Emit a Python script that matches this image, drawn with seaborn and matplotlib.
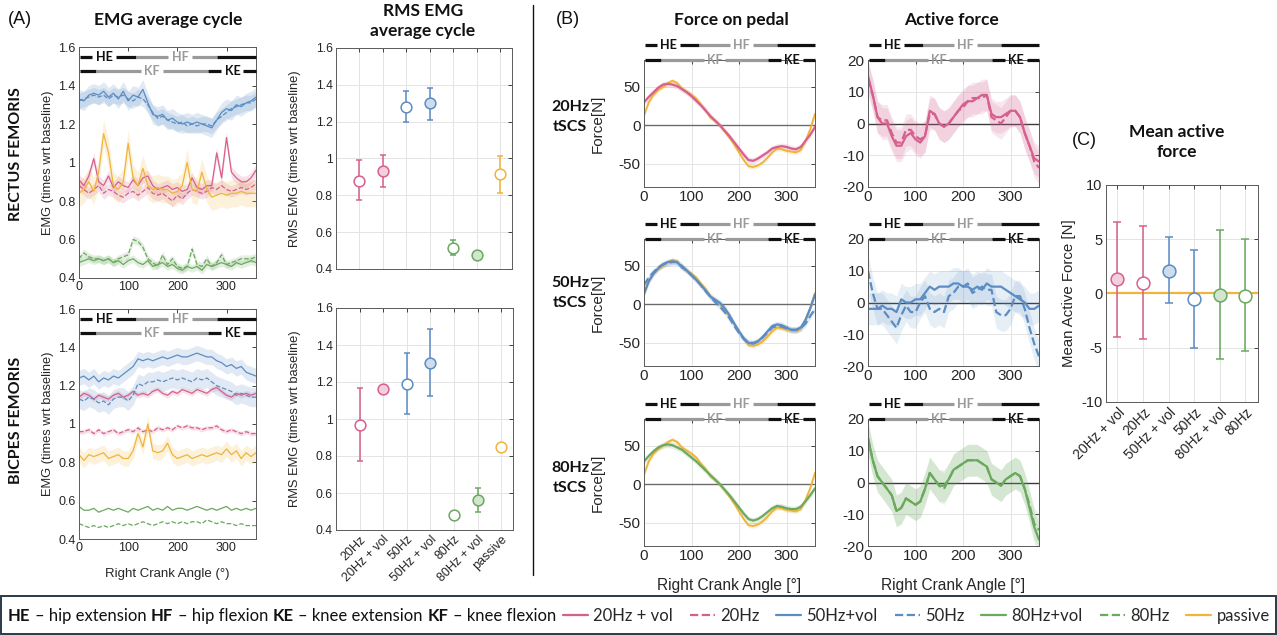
import numpy as np
import pandas as pd
import seaborn as sns
import matplotlib
matplotlib.use("Agg")
import matplotlib.pyplot as plt
import matplotlib.transforms as mtransforms
from matplotlib.lines import Line2D
from matplotlib.patches import Rectangle
from matplotlib.colors import to_rgb

# ---------------- data ----------------
ANGLE = [0, 10, 20, 30, 40, 50, 60, 70, 80, 90, 100, 110, 120, 130, 140, 150, 160, 170, 180,
         190, 200, 210, 220, 230, 240, 250, 260, 270, 280, 290, 300, 310, 320, 330, 340, 350, 360]

CONDITIONS = ['20Hz + vol', '20Hz', '50Hz+vol', '50Hz', '80Hz+vol', '80Hz', 'passive']

# EMG average cycle - rectus femoris
rf_20_vol = [0.91, 0.88, 0.93, 1.02, 0.90, 0.88, 0.93, 0.87, 0.90, 0.88, 0.87, 0.91, 0.88, 0.92, 0.93, 0.88, 0.86, 0.87, 0.88,
             0.86, 0.87, 0.85, 0.86, 0.92, 0.87, 0.86, 0.88, 0.88, 1.05, 0.92, 1.13, 0.95, 0.92, 0.90, 0.90, 0.92, 0.96]
rf_20 = [0.88, 0.86, 0.84, 0.86, 0.88, 0.84, 0.86, 0.85, 0.83, 0.82, 0.84, 0.85, 0.83, 0.85, 0.87, 0.84, 0.83, 0.84, 0.82,
         0.80, 0.83, 0.81, 0.84, 0.86, 0.85, 0.84, 0.85, 0.87, 0.86, 0.88, 0.86, 0.85, 0.86, 0.87, 0.86, 0.87, 0.89]
rf_50_vol = [1.33, 1.32, 1.35, 1.36, 1.35, 1.37, 1.34, 1.36, 1.33, 1.37, 1.32, 1.35, 1.34, 1.38, 1.31, 1.25, 1.24, 1.25, 1.22,
             1.23, 1.21, 1.20, 1.21, 1.20, 1.21, 1.20, 1.19, 1.18, 1.22, 1.26, 1.28, 1.27, 1.30, 1.29, 1.31, 1.32, 1.34]
rf_50 = [1.32, 1.33, 1.34, 1.35, 1.34, 1.35, 1.33, 1.35, 1.34, 1.35, 1.33, 1.32, 1.34, 1.33, 1.30, 1.26, 1.23, 1.24, 1.22,
         1.21, 1.20, 1.21, 1.19, 1.20, 1.19, 1.20, 1.20, 1.19, 1.22, 1.24, 1.26, 1.28, 1.29, 1.30, 1.31, 1.31, 1.33]
rf_80_vol = [0.48, 0.49, 0.50, 0.49, 0.50, 0.49, 0.50, 0.48, 0.49, 0.47, 0.49, 0.50, 0.48, 0.47, 0.49, 0.46, 0.47, 0.48, 0.46,
             0.47, 0.45, 0.44, 0.46, 0.45, 0.46, 0.44, 0.47, 0.46, 0.47, 0.48, 0.47, 0.46, 0.48, 0.47, 0.48, 0.49, 0.48]
rf_80 = [0.50, 0.53, 0.51, 0.50, 0.50, 0.49, 0.50, 0.48, 0.50, 0.51, 0.52, 0.60, 0.59, 0.56, 0.50, 0.48, 0.46, 0.52, 0.47,
         0.50, 0.46, 0.45, 0.46, 0.55, 0.47, 0.46, 0.50, 0.46, 0.48, 0.52, 0.47, 0.48, 0.49, 0.50, 0.50, 0.50, 0.51]
rf_passive = [0.84, 0.86, 0.90, 0.85, 0.95, 1.15, 1.05, 0.88, 0.86, 0.90, 1.10, 0.92, 0.88, 0.97, 0.88, 0.86, 0.87, 0.86, 0.86,
              0.84, 0.85, 0.88, 1.00, 0.86, 0.85, 0.95, 0.86, 0.82, 0.83, 0.84, 0.83, 0.84, 0.84, 0.85, 0.84, 0.84, 0.84]
rf_band = [0.03, 0.03, 0.05, 0.04, 0.02, 0.02, 0.07]

# EMG average cycle - biceps femoris
bf_20_vol = [1.14, 1.16, 1.15, 1.13, 1.15, 1.14, 1.13, 1.15, 1.16, 1.14, 1.15, 1.17, 1.15, 1.16, 1.15, 1.17, 1.18, 1.16, 1.15,
             1.17, 1.16, 1.18, 1.17, 1.16, 1.18, 1.17, 1.16, 1.18, 1.19, 1.17, 1.15, 1.14, 1.16, 1.15, 1.16, 1.15, 1.16]
bf_20 = [0.96, 0.96, 0.97, 0.95, 0.97, 0.95, 0.96, 0.97, 0.95, 0.96, 0.97, 0.96, 0.98, 0.96, 0.97, 0.96, 0.98, 0.97, 0.98,
         0.97, 0.99, 0.98, 0.99, 0.98, 0.98, 0.97, 0.98, 0.98, 0.99, 0.97, 0.96, 0.97, 0.96, 0.95, 0.96, 0.95, 0.95]
bf_50_vol = [1.24, 1.25, 1.23, 1.25, 1.22, 1.24, 1.23, 1.25, 1.24, 1.26, 1.28, 1.30, 1.34, 1.33, 1.34, 1.33, 1.34, 1.35, 1.34,
             1.35, 1.36, 1.35, 1.35, 1.36, 1.37, 1.36, 1.35, 1.35, 1.33, 1.32, 1.30, 1.31, 1.29, 1.30, 1.27, 1.26, 1.25]
bf_50 = [1.13, 1.12, 1.14, 1.13, 1.11, 1.12, 1.10, 1.13, 1.14, 1.14, 1.12, 1.15, 1.21, 1.20, 1.22, 1.22, 1.23, 1.22, 1.23,
         1.24, 1.23, 1.24, 1.23, 1.22, 1.24, 1.23, 1.24, 1.22, 1.20, 1.19, 1.18, 1.17, 1.15, 1.16, 1.15, 1.14, 1.14]
bf_80_vol = [0.57, 0.55, 0.55, 0.56, 0.54, 0.55, 0.56, 0.55, 0.56, 0.55, 0.54, 0.56, 0.55, 0.56, 0.57, 0.55, 0.56, 0.55, 0.57,
             0.55, 0.56, 0.56, 0.55, 0.56, 0.57, 0.56, 0.55, 0.56, 0.55, 0.56, 0.57, 0.55, 0.56, 0.55, 0.56, 0.55, 0.56]
bf_80 = [0.48, 0.47, 0.46, 0.47, 0.46, 0.47, 0.46, 0.47, 0.48, 0.47, 0.48, 0.47, 0.48, 0.49, 0.48, 0.47, 0.48, 0.49, 0.48,
         0.49, 0.48, 0.49, 0.48, 0.49, 0.49, 0.48, 0.50, 0.49, 0.48, 0.49, 0.48, 0.48, 0.47, 0.48, 0.47, 0.47, 0.47]
bf_passive = [0.84, 0.81, 0.84, 0.83, 0.84, 0.85, 0.82, 0.83, 0.84, 0.82, 0.82, 0.86, 0.95, 0.88, 1.00, 0.86, 0.85, 0.86, 0.90,
              0.84, 0.82, 0.83, 0.84, 0.82, 0.83, 0.84, 0.83, 0.84, 0.85, 0.84, 0.87, 0.84, 0.86, 0.82, 0.85, 0.83, 0.85]
bf_band = [0.015, 0.012, 0.04, 0.05, 0.0, 0.0, 0.04]

# RMS EMG
RMS_LABELS = ['20Hz', '20Hz + vol', '50Hz', '50Hz + vol', '80Hz', '80Hz + vol', 'passive']
rms_rf_mean = [0.88, 0.93, 1.28, 1.30, 0.515, 0.478, 0.915]
rms_rf_low = [0.775, 0.845, 1.20, 1.21, 0.475, 0.46, 0.815]
rms_rf_high = [0.99, 1.02, 1.365, 1.385, 0.555, 0.495, 1.015]
rms_bf_mean = [0.97, 1.16, 1.19, 1.305, 0.48, 0.56, 0.85]
rms_bf_low = [0.775, 1.155, 1.025, 1.125, 0.465, 0.495, 0.84]
rms_bf_high = [1.165, 1.17, 1.355, 1.485, 0.495, 0.625, 0.86]
RMS_FILLED = [False, True, False, True, False, True, False]

# Force on pedal
force_passive = [13, 30, 40, 46, 50, 55, 58, 55, 48, 44, 40, 35, 27, 20, 10, 6, 0, -8, -16,
                 -25, -35, -45, -53, -54, -52, -48, -42, -35, -30, -31, -33, -34, -35, -32, -20, -5, 15]
force_20_vol = [30, 37, 43, 49, 53, 54, 53, 51, 47, 43, 38, 32, 26, 19, 12, 6, 0, -7, -14,
                -22, -30, -38, -45, -46, -43, -39, -35, -30, -28, -27, -28, -30, -31, -28, -20, -12, -2]
force_50_vol = [14, 30, 40, 47, 52, 55, 56, 55, 48, 44, 38, 32, 25, 18, 10, 6, 2, -5, -14,
                -25, -35, -44, -50, -51, -48, -42, -35, -28, -26, -27, -30, -33, -33, -30, -20, -5, 13]
force_50 = [25, 35, 42, 48, 52, 54, 55, 55, 50, 44, 38, 32, 25, 17, 10, 3, -3, -10, -18,
            -28, -37, -45, -50, -50, -48, -43, -37, -30, -28, -29, -31, -33, -33, -31, -25, -15, -6]
force_80_vol = [30, 37, 43, 48, 51, 52, 51, 48, 45, 40, 35, 30, 24, 18, 12, 6, 0, -7, -14,
                -22, -30, -38, -45, -47, -45, -41, -36, -31, -28, -29, -31, -32, -32, -29, -22, -14, -5]

# Active force
active_20_vol = [15, 9, 2, 0, 0, -4, -7, -7, -4, -3, -5, -6, -4, 4, 3, 0, -1, 0, 2,
                 4, 6, 7, 7, 8, 9, 9, 3, 2, 2, 3, 4, 4, 2, -3, -7, -11, -12]
active_20 = [14, 9, 2, 1, 1, -3, -6, -6, -2, -2, -4, -5, -4, 3, 3, 0, -1, 0, 2,
             4, 5, 7, 8, 8, 8, 9, 2, 1, 0, 2, 4, 4, 2, -3, -7, -12, -14]
active_50_vol = [-2, -2, -2, -1, -2, -2, -3, 1, 0, 0, 1, 1, 3, 5, 4, 5, 5, 5, 6,
                 6, 5, 5, 4, 5, 4, 6, 5, 5, 5, 4, 3, 2, 1, 0, -2, -2, -1]
active_50 = [10, 3, -2, -2, -4, -6, -8, -4, -1, -3, -3, 0, 2, -2, -3, -2, -3, 2, 3,
             5, 5, 6, 3, 4, 5, 4, 4, -3, -4, -4, -2, 2, 2, -2, -8, -13, -17]
active_80_vol = [14, 7, 2, 0, -2, -4, -9, -8, -5, -6, -7, -6, -2, 3, 1, -1, -1, 1, 4,
                 5, 6, 7, 7, 7, 6, 5, 1, 0, -1, 1, 2, 3, 2, -2, -8, -14, -18]
active_80 = [14, 7, 2, 0, -2, -4, -9, -8, -5, -6, -7, -6, -2, 3, 1, -1, -2, 1, 4,
             5, 6, 7, 7, 7, 6, 5, 1, 0, -1, 1, 2, 3, 2, -2, -7, -13, -15]
FORCE_BAND = 4
PASSIVE_FORCE_BAND = 3
ACTIVE_BAND = 5

# Mean active force
MAF_LABELS = ['20Hz + vol', '20Hz', '50Hz + vol', '50Hz', '80Hz + vol', '80Hz']
maf_mean = [1.3, 1.0, 2.1, -0.5, -0.1, -0.2]
maf_low = [-4.0, -4.15, -0.9, -5.05, -6.05, -5.3]
maf_high = [6.6, 6.2, 5.2, 4.05, 5.85, 5.0]
MAF_FILLED = [True, False, True, False, True, False]
maf_passive = 0.0

# Phase bars (degrees of crank angle)
HIP_SEGMENTS = [(2, 27, 'k'), (76, 116, 'k'), (116, 180, 'g'), (230, 281, 'g'), (281, 360, 'k')]
KNEE_SEGMENTS = [(2, 35, 'k'), (35, 127, 'g'), (170, 262, 'g'), (262, 289, 'k'), (334, 360, 'k')]
HIP_LABELS = [(52, 'HE', 'k'), (206, 'HF', 'g')]
KNEE_LABELS = [(149, 'KF', 'g'), (312, 'KE', 'k')]

# ---------------- style ----------------
PINK = '#d6608d'
BLUE = '#5b8dc4'
GREEN = '#6aa95e'
YELLOW = '#f0b43a'
COLORS = [PINK, PINK, BLUE, BLUE, GREEN, GREEN, YELLOW]
STYLES = ['-', '--', '-', '--', '-', '--', '-']
PHASE_COL = {'k': '#111111', 'g': '#9a9a9a'}
TXT = '#262626'
TITLE_FONT = ['Lato', 'DejaVu Sans']

sns.set_theme(style="white")
plt.rcParams['font.family'] = ['Liberation Sans', 'DejaVu Sans']
plt.rcParams['axes.unicode_minus'] = False

W, H = 1277, 635
fig = plt.figure(figsize=(W / 100, H / 100), dpi=100)


def add_ax(x0, y0, x1, y1):
    return fig.add_axes([x0 / W, 1 - y1 / H, (x1 - x0) / W, (y1 - y0) / H])


def light(c, f=0.3):
    r, g, b = to_rgb(c)
    return (1 - f + f * r, 1 - f + f * g, 1 - f + f * b)


def style_axis(ax, fs, grid):
    ax.tick_params(axis='both', which='both', direction='in', length=3, width=0.6,
                   labelsize=fs, colors=TXT, top=True, right=True, pad=2.5)
    for s in ax.spines.values():
        s.set_color('#5a5a5a')
        s.set_linewidth(0.7)
    if grid:
        ax.grid(True, color='#e4e4e4', lw=0.7)
        ax.set_axisbelow(True)
    else:
        ax.grid(False)


def curve(ax, y, band, color, ls, lw, alpha=0.18):
    y = np.asarray(y, dtype=float)
    if band:
        ax.fill_between(ANGLE, y - band, y + band, color=color, alpha=alpha, lw=0, zorder=1)
    sns.lineplot(x=ANGLE, y=y, ax=ax, color=color, linestyle=ls, lw=lw,
                 sort=False, estimator=None, legend=False, zorder=2)


def phase_bars(ax, y_hip, y_knee, fs=9):
    tr = mtransforms.blended_transform_factory(ax.transData, ax.transAxes)
    for segs, yy in ((HIP_SEGMENTS, y_hip), (KNEE_SEGMENTS, y_knee)):
        for a, b, c in segs:
            ax.add_line(Line2D([a, b], [yy, yy], color=PHASE_COL[c], lw=2.3, transform=tr,
                               clip_on=False, solid_capstyle='butt', zorder=5))
    for labs, yy in ((HIP_LABELS, y_hip), (KNEE_LABELS, y_knee)):
        for xx, s, c in labs:
            ax.text(xx, yy, s, color=PHASE_COL[c], fontsize=fs, fontweight='bold', family=TITLE_FONT,
                    ha='center', va='center', transform=tr, clip_on=False, zorder=6)


def emg_panel(ax, series, bands, xlabel):
    for y, b, c, ls in zip(series, bands, COLORS, STYLES):
        curve(ax, y, b, c, ls, 0.9)
    ax.set_xlim(0, 360)
    ax.set_ylim(0.4, 1.6)
    ax.set_xticks([0, 100, 200, 300])
    ax.set_yticks([0.4, 0.6, 0.8, 1.0, 1.2, 1.4, 1.6])
    ax.set_yticklabels(['0.4', '0.6', '0.8', '1', '1.2', '1.4', '1.6'])
    style_axis(ax, 9, False)
    ax.set_ylabel('EMG (times wrt baseline)', fontsize=9.3, color=TXT)
    ax.yaxis.set_label_coords(-0.14, 0.5)
    if xlabel:
        ax.set_xlabel('Right Crank Angle (°)', fontsize=9.5, color=TXT)
        ax.xaxis.set_label_coords(0.5, -0.125)
    else:
        ax.set_xlabel('')
    phase_bars(ax, 0.957, 0.896)


def rms_panel(ax, mean, low, high, show_labels):
    pos = list(range(1, len(RMS_LABELS) + 1))
    for p, m, lo, hi, c in zip(pos, mean, low, high, COLORS):
        ax.errorbar([p], [m], yerr=[[m - lo], [hi - m]], fmt='none', ecolor=c,
                    elinewidth=1.1, capsize=2.5, capthick=1.1, zorder=2)
    for p, m, c, f in zip(pos, mean, COLORS, RMS_FILLED):
        sns.scatterplot(x=[p], y=[m], ax=ax, s=60, color=light(c) if f else 'white',
                        edgecolor=c, linewidth=1.1, zorder=3, legend=False)
    ax.set_xlim(0, 7.5)
    ax.set_ylim(0.4, 1.6)
    ax.set_xticks(pos)
    ax.set_yticks([0.4, 0.6, 0.8, 1.0, 1.2, 1.4, 1.6])
    ax.set_yticklabels(['0.4', '0.6', '0.8', '1', '1.2', '1.4', '1.6'])
    style_axis(ax, 8.7, True)
    if show_labels:
        ax.set_xticklabels(RMS_LABELS, rotation=45, ha='right', rotation_mode='anchor', fontsize=9)
    else:
        ax.set_xticklabels([])
    ax.set_xlabel('')
    ax.set_ylabel('RMS EMG (times wrt baseline)', fontsize=9.3, color=TXT)
    ax.yaxis.set_label_coords(-0.2, 0.5)


def force_panel(ax, series, xlabel):
    ax.axhline(0, color='#6b6b6b', lw=1.0, zorder=1)
    curve(ax, force_passive, PASSIVE_FORCE_BAND, YELLOW, '-', 1.4)
    for y, c, ls in series:
        curve(ax, y, FORCE_BAND, c, ls, 1.6)
    ax.set_xlim(0, 360)
    ax.set_ylim(-80, 85)
    ax.set_xticks([0, 100, 200, 300])
    ax.set_yticks([-50, 0, 50])
    ax.set_yticklabels(['-50', '0', '50'])
    style_axis(ax, 11, True)
    ax.set_ylabel('Force[N]', fontsize=11, color=TXT)
    ax.yaxis.set_label_coords(-0.23, 0.5)
    if xlabel:
        ax.set_xlabel('Right Crank Angle [°]', fontsize=11.2, color=TXT)
        ax.xaxis.set_label_coords(0.5, -0.25)
    else:
        ax.set_xlabel('')
    phase_bars(ax, 1.118, 1.0)


def active_panel(ax, series, xlabel):
    ax.axhline(0, color='#3a3a3a', lw=1.0, zorder=1)
    for y, c, ls in series:
        curve(ax, y, ACTIVE_BAND, c, ls, 1.6, alpha=0.15)
    ax.set_xlim(0, 360)
    ax.set_ylim(-20, 20)
    ax.set_xticks([0, 100, 200, 300])
    ax.set_yticks([-20, -10, 0, 10, 20])
    ax.set_yticklabels(['-20', '-10', '0', '10', '20'])
    style_axis(ax, 11, True)
    ax.set_ylabel('')
    if xlabel:
        ax.set_xlabel('Right Crank Angle [°]', fontsize=11.2, color=TXT)
        ax.xaxis.set_label_coords(0.5, -0.25)
    else:
        ax.set_xlabel('')
    phase_bars(ax, 1.118, 1.0)


# ---------------- panels ----------------
ax_rf = add_ax(79, 47, 256, 278)
emg_panel(ax_rf, [rf_20_vol, rf_20, rf_50_vol, rf_50, rf_80_vol, rf_80, rf_passive], rf_band, False)
ax_bf = add_ax(79, 309, 256, 539)
emg_panel(ax_bf, [bf_20_vol, bf_20, bf_50_vol, bf_50, bf_80_vol, bf_80, bf_passive], bf_band, True)

ax_rms1 = add_ax(336, 48, 512, 269)
rms_panel(ax_rms1, rms_rf_mean, rms_rf_low, rms_rf_high, False)
ax_rms2 = add_ax(336, 308, 513, 530)
rms_panel(ax_rms2, rms_bf_mean, rms_bf_low, rms_bf_high, True)

rows_y = [60, 239, 419]
force_series = [[(force_20_vol, PINK, '-')],
                [(force_50_vol, BLUE, '-'), (force_50, BLUE, '--')],
                [(force_80_vol, GREEN, '-')]]
active_series = [[(active_20, PINK, '--'), (active_20_vol, PINK, '-')],
                 [(active_50, BLUE, '--'), (active_50_vol, BLUE, '-')],
                 [(active_80, GREEN, '--'), (active_80_vol, GREEN, '-')]]
for i, y0 in enumerate(rows_y):
    axf = add_ax(644, y0, 815, y0 + 127)
    force_panel(axf, force_series[i], i == 2)
    axa = add_ax(868, y0, 1039, y0 + 127)
    active_panel(axa, active_series[i], i == 2)

# mean active force
ax_m = add_ax(1106, 185, 1258, 402)
ax_m.axhline(maf_passive, color=YELLOW, lw=1.6, zorder=1.5)
mpos = list(range(1, len(MAF_LABELS) + 1))
maf_colors = [PINK, PINK, BLUE, BLUE, GREEN, GREEN]
for p, m, lo, hi, c in zip(mpos, maf_mean, maf_low, maf_high, maf_colors):
    ax_m.errorbar([p], [m], yerr=[[m - lo], [hi - m]], fmt='none', ecolor=c,
                  elinewidth=1.1, capsize=3, capthick=1.1, zorder=2)
for p, m, c, f in zip(mpos, maf_mean, maf_colors, MAF_FILLED):
    sns.scatterplot(x=[p], y=[m], ax=ax_m, s=85, color=light(c) if f else 'white',
                    edgecolor=c, linewidth=1.1, zorder=3, legend=False)
ax_m.set_xlim(0.55, 6.5)
ax_m.set_ylim(-10, 10)
ax_m.set_xticks(mpos)
ax_m.set_yticks([-10, -5, 0, 5, 10])
ax_m.set_yticklabels(['-10', '-5', '0', '5', '10'])
style_axis(ax_m, 10.5, True)
ax_m.set_xticklabels(MAF_LABELS, rotation=45, ha='right', rotation_mode='anchor', fontsize=10)
ax_m.set_xlabel('')
ax_m.set_ylabel('Mean Active Force [N]', fontsize=10.8, color=TXT)
ax_m.yaxis.set_label_coords(-0.2, 0.5)

# ---------------- titles & labels ----------------
def ftext(x, y, s, **kw):
    fig.text(x / W, 1 - y / H, s, **kw)

ftext(8, 20, '(A)', fontsize=13, ha='left', va='center', color='#111')
ftext(556, 20, '(B)', fontsize=13, ha='left', va='center', color='#111')
ftext(1072, 140, '(C)', fontsize=13, ha='left', va='center', color='#111')
tkw = dict(fontsize=12.5, fontweight='bold', family=TITLE_FONT, ha='center', va='center', color='#111')
ftext(168, 20, 'EMG average cycle', **tkw)
ftext(423, 21, 'RMS EMG\naverage cycle', linespacing=1.25, **tkw)
ftext(731, 20, 'Force on pedal', **tkw)
ftext(951, 20, 'Active force', **tkw)
ftext(1177, 142, 'Mean active\nforce', linespacing=1.25, **tkw)

rkw = dict(fontsize=11.5, fontweight='bold', family=TITLE_FONT, ha='center', va='center', color='#111')
ftext(16, 154, 'RECTUS FEMORIS', rotation=90, **rkw)
ftext(16, 420, 'BICPES FEMORIS', rotation=90, **rkw)
for lab, yc in (('20Hz\ntSCS', 117), ('50Hz\ntSCS', 293), ('80Hz\ntSCS', 478)):
    ftext(570, yc, lab, linespacing=1.5, **rkw)

# divider
fig.add_artist(Line2D([533 / W, 533 / W], [1 - 5 / H, 1 - 575 / H], color='#111', lw=1.0))

# ---------------- bottom legend ----------------
fig.add_artist(Rectangle((0.5 / W, 1 / H), (W - 2) / W, 38 / H, transform=fig.transFigure,
                         fill=False, edgecolor='#2c3a48', lw=1.4))
DEF_RUNS = [('HE', True), ('– hip extension', False), ('HF', True), ('– hip flexion', False),
            ('KE', True), ('– knee extension', False), ('KF', True), ('– knee flexion', False)]
renderer = fig.canvas.get_renderer()
xpos = 8.0
yc = 1 - 616 / H
for s, b in DEF_RUNS:
    t = fig.text(xpos / W, yc, s, ha='left', va='center', fontsize=12,
                 fontweight='bold' if b else 'normal', family=TITLE_FONT, color='#111')
    xpos += t.get_window_extent(renderer).width + 4.5

handles = [Line2D([], [], color=c, lw=1.6, linestyle=ls) for c, ls in zip(COLORS, STYLES)]
fig.legend(handles, CONDITIONS, loc='center left', bbox_to_anchor=(563 / W, yc), ncol=7,
           frameon=False, prop={'family': TITLE_FONT, 'size': 12}, handlelength=1.5,
           handletextpad=0.3, columnspacing=1.03, borderpad=0, borderaxespad=0)

fig.savefig('out.png', dpi=100)
